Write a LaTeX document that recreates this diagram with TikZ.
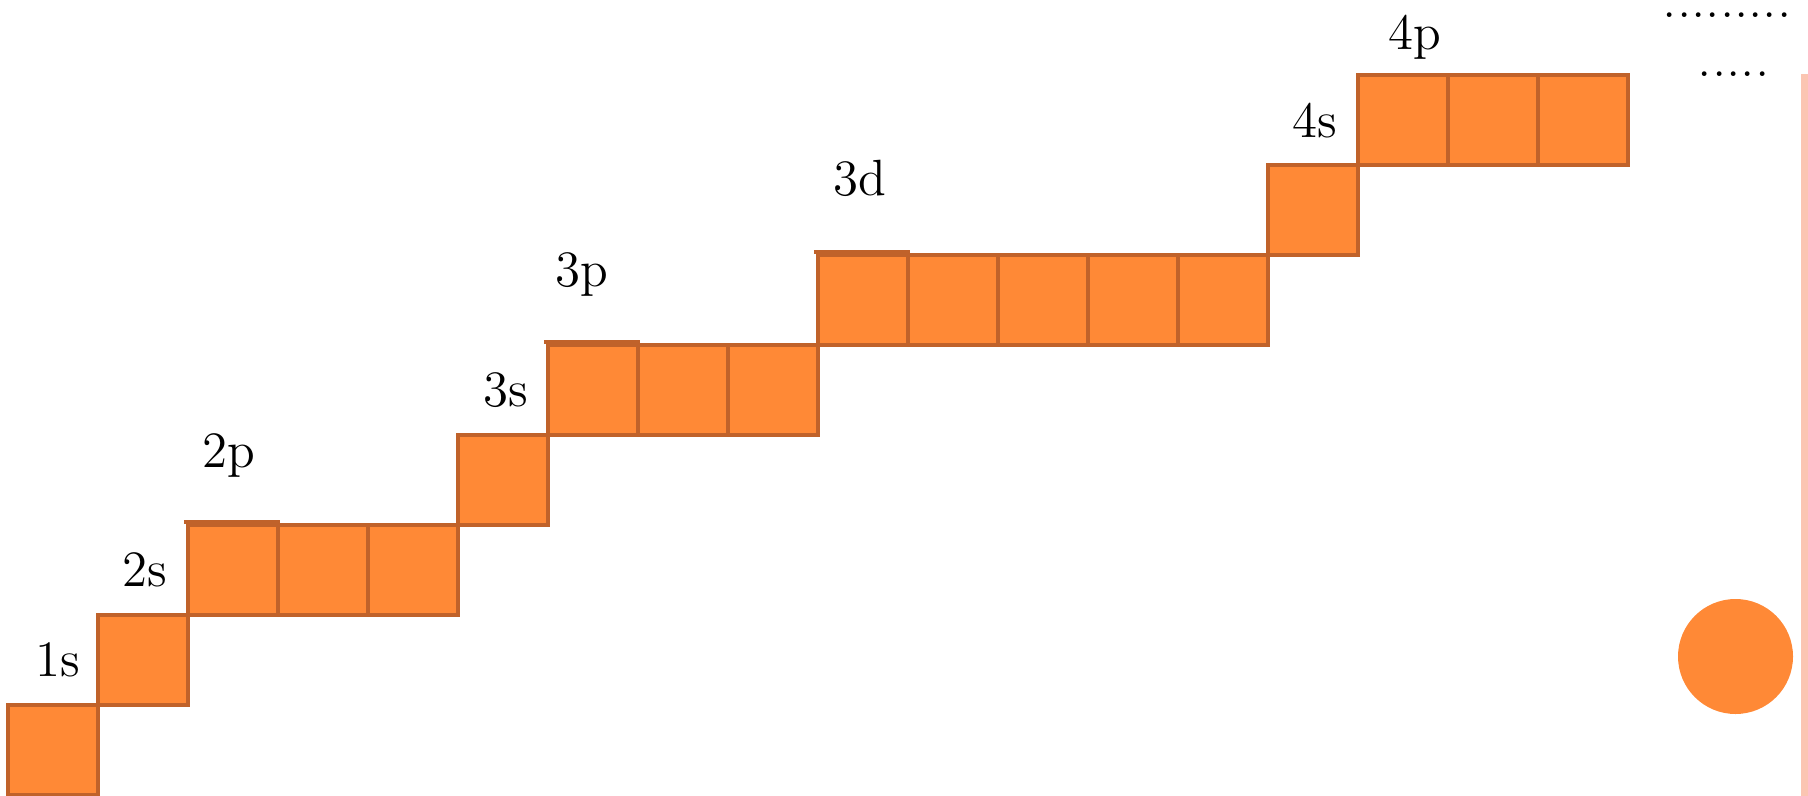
\documentclass[tikz,border=0pt]{standalone}
\definecolor{orb}{RGB}{255,137,54}
\definecolor{orbedge}{RGB}{192,98,42}
\definecolor{rim}{RGB}{251,197,178}
\begin{document}
\begin{tikzpicture}[x=0.1mm,y=-0.1mm,
  cell/.style={draw=orbedge,fill=orb,line width=1.2pt,minimum size=9mm,inner sep=0pt},
  lbl/.style={anchor=base west,inner sep=0pt,font=\fontsize{14.5}{17}\selectfont},
  more/.style={anchor=base west,inner sep=0pt,font=\fontsize{16.3}{19}\selectfont}]
\useasboundingbox (0,0) rectangle (1808,796);
% orbital boxes, column/row
\foreach \c/\r in {0/0,1/1,2/2,3/2,4/2,5/3,6/4,7/4,8/4,9/5,10/5,11/5,12/5,13/5,14/6,15/7,16/7,17/7}
  \node[cell] (b\c) at ({53+90*\c},{750-90*\r}) {};
\draw[orbedge,line width=1.2pt] ([shift={(-2,-1)}]b2.north west) -- ([yshift=0.1mm]b2.north east);
\draw[orbedge,line width=1.2pt] ([shift={(-2,-1)}]b6.north west) -- ([yshift=0.1mm]b6.north east);
\draw[orbedge,line width=1.2pt] ([shift={(-2,-1)}]b9.north west) -- ([yshift=0.1mm]b9.north east);
\node[lbl] (s1) at (35,676) {1s};
\node[lbl] (s2) at (122,586) {2s};
\node[lbl] (p2) at (202,467) {2p};
\node[lbl] (s3) at (483,406) {3s};
\node[lbl] (p3) at (555,286) {3p};
\node[lbl] (d3) at (833,195) {3d};
\node[lbl] (s4) at (1292,137) {4s};
\node[lbl] (p4) at (1388,49) {4p};
\node[more] (dots1) at (1662,18) {.........};
\node[more] (dots2) at (1697,76) {.....};
\node[circle,fill=orb,minimum size=11.5mm,inner sep=0pt] (atom) at (1735.5,656.5) {};
\fill[rim] (1801,74) rectangle (1808,796);
\end{tikzpicture}
\end{document}
